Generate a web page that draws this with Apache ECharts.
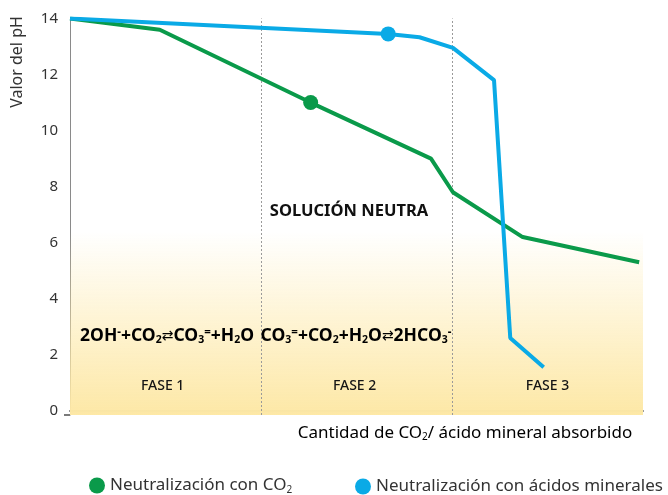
<!DOCTYPE html>
<html>
<head>
<meta charset="utf-8">
<script src="https://cdn.jsdelivr.net/npm/echarts@6/dist/echarts.min.js"></script>
<style>html,body{margin:0;padding:0;background:#fff}#c{width:668px;height:495px}</style>
</head>
<body>
<div id="c"></div>
<script>
// ---- data ----
var seriesNames = ['Neutralización con CO{sub|2}', 'Neutralización con ácidos minerales'];
var greenX = [0, 4.7, 12.6, 18.9, 20.05, 23.7, 29.8];
var greenY = [14, 13.6, 11.0, 9.0, 7.8, 6.2, 5.3];
var greenMarkerIndex = 2;
var blueX = [0, 16.66, 18.3, 20.05, 22.2, 23.05, 24.8];
var blueY = [14, 13.45, 13.33, 12.95, 11.8, 2.6, 1.55];
var blueMarkerIndex = 1;
var yTicks = [0, 2, 4, 6, 8, 10, 12, 14];
var phaseBounds = [10, 20];
var phaseLabels = ['FASE 1', 'FASE 2', 'FASE 3'];
var phaseCenters = [4.85, 14.9, 25];

var FONT = 'Noto Sans';
var GREEN = '#0a9a4a';
var BLUE = '#0aaae6';

function pts(xs, ys, mi, color) {
  return xs.map(function (x, i) {
    if (i === mi) return { value: [x, ys[i]], symbol: 'circle', symbolSize: 15, itemStyle: { color: color } };
    return { value: [x, ys[i]], symbol: 'none' };
  });
}

var chart = echarts.init(document.getElementById('c'), null, { renderer: 'canvas' });
var eqRich = {
  t: { fontFamily: FONT, fontWeight: 'bold', fontSize: 17.5, color: '#111' },
  sub: { fontFamily: FONT, fontWeight: 'bold', fontSize: 10.5, color: '#111', padding: [9, 0, 0, 0] },
  sup: { fontFamily: FONT, fontWeight: 'bold', fontSize: 11.5, color: '#111', padding: [0, 0, 7, 0] },
  ar: { fontFamily: 'DejaVu Sans', fontSize: 14, color: '#555' }
};
var legendText = { fontFamily: FONT, fontSize: 17, color: '#333', rich: { sub: { fontFamily: FONT, fontSize: 10, color: '#333', padding: [9, 0, 0, 0] } } };

var option = {
  animation: false,
  grid: { left: 70, right: 25, top: 18.5, bottom: 80 },
  xAxis: {
    type: 'value', min: 0, max: 30,
    axisLine: { show: true, lineStyle: { color: '#7a7a7a', width: 2 } },
    axisTick: { show: false }, axisLabel: { show: false }, splitLine: { show: false }
  },
  yAxis: {
    type: 'value', min: -0.15, max: 14,
    axisLine: { show: true, lineStyle: { color: '#8a8a8a', width: 1 } },
    axisTick: { show: false },
    splitLine: { show: false },
    axisLabel: { customValues: yTicks, fontFamily: FONT, fontSize: 15, color: '#333', margin: 12 }
  },
  legend: [
    { bottom: -5, left: 84, itemWidth: 16, itemHeight: 16, icon: 'circle', textStyle: legendText, data: [{ name: seriesNames[0] }] },
    { bottom: -5, left: 350, itemWidth: 16, itemHeight: 16, icon: 'circle', textStyle: legendText, data: [{ name: seriesNames[1] }] }
  ],
  series: [
    {
      name: seriesNames[0], type: 'line', data: pts(greenX, greenY, greenMarkerIndex, GREEN),
      color: GREEN, lineStyle: { color: GREEN, width: 4 }, showSymbol: true, symbol: 'none', z: 5,
      markArea: {
        silent: true,
        itemStyle: { color: { type: 'linear', x: 0, y: 0, x2: 0, y2: 1, colorStops: [
          { offset: 0, color: 'rgba(253,232,166,0)' }, { offset: 1, color: '#fde8a6' } ] } },
        data: [[{ coord: [0, 6.4] }, { coord: [30, -0.15] }]]
      },
      markLine: {
        silent: true, symbol: 'none', label: { show: false },
        lineStyle: { color: '#9a9a9a', type: [2, 2], width: 1 },
        data: phaseBounds.map(function (b) { return { xAxis: b }; })
      }
    },
    {
      name: seriesNames[1], type: 'line', data: pts(blueX, blueY, blueMarkerIndex, BLUE),
      color: BLUE, lineStyle: { color: BLUE, width: 4 }, showSymbol: true, symbol: 'none', z: 6
    }
  ]
};
chart.setOption(option);

function px(x, y) { return chart.convertToPixel({ gridIndex: 0 }, [x, y]); }
var g = [];
phaseLabels.forEach(function (t, i) {
  var p = px(phaseCenters[i], 0);
  g.push({ type: 'text', z: 100, x: p[0], y: 386, style: { text: t, fontFamily: FONT, fontWeight: 500, fontSize: 14, fill: '#151515', align: 'center', verticalAlign: 'middle' } });
});
g.push({ type: 'text', z: 100, x: 349, y: 211, style: { text: 'SOLUCIÓN NEUTRA', fontFamily: FONT, fontWeight: 'bold', fontSize: 16.5, fill: '#111', align: 'center', verticalAlign: 'middle' } });
g.push({ type: 'text', z: 100, x: 167, y: 336, style: {
  text: '{t|2OH}{sup|-}{t|+CO}{sub|2}{ar|⇄}{t|CO}{sub|3}{sup|=}{t|+H}{sub|2}{t|O}',
  rich: eqRich, align: 'center', verticalAlign: 'middle' } });
g.push({ type: 'text', z: 100, x: 356, y: 336, style: {
  text: '{t|CO}{sub|3}{sup|=}{t|+CO}{sub|2}{t|+H}{sub|2}{t|O}{ar|⇄}{t|2HCO}{sub|3}{sup|-}',
  rich: eqRich, align: 'center', verticalAlign: 'middle' } });
g.push({ type: 'text', z: 100, x: 465, y: 433, style: {
  text: '{a|Cantidad de CO}{sub|2}{a|/ ácido mineral absorbido}',
  rich: { a: { fontFamily: FONT, fontSize: 17, color: '#333' }, sub: { fontFamily: FONT, fontSize: 10, color: '#333', padding: [9, 0, 0, 0] } },
  align: 'center', verticalAlign: 'middle' } });
g.push({ type: 'text', z: 100, x: 17, y: 62, rotation: Math.PI / 2, style: { text: 'Valor del pH', fontFamily: FONT, fontSize: 16, fill: '#333', align: 'center', verticalAlign: 'middle' } });
g.push({ type: 'line', z: 100, shape: { x1: 64, y1: 415, x2: 70, y2: 415 }, style: { stroke: '#7a7a7a', lineWidth: 2 } });
chart.setOption({ graphic: g });
</script>
</body>
</html>
